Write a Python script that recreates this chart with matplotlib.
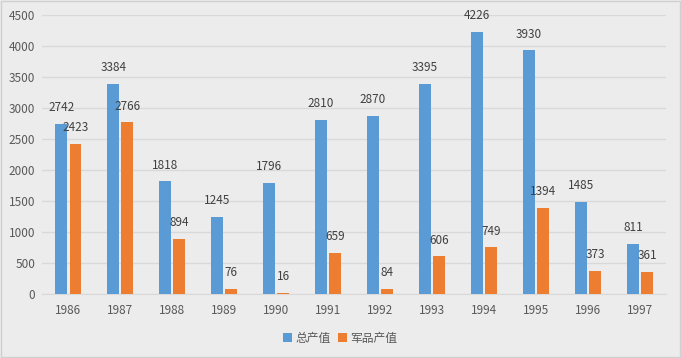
import matplotlib
matplotlib.use("Agg")
import matplotlib.pyplot as plt
import numpy as np
from matplotlib.patches import Rectangle

plt.rcParams['font.family'] = ['Noto Sans CJK SC', 'DejaVu Sans']

years = ['1986', '1987', '1988', '1989', '1990', '1991', '1992', '1993', '1994', '1995', '1996', '1997']
total = [2742, 3384, 1818, 1245, 1796, 2810, 2870, 3395, 4226, 3930, 1485, 811]
military = [2423, 2766, 894, 76, 16, 659, 84, 606, 749, 1394, 373, 361]
series_names = ['总产值', '军品产值']

blue = '#5b9bd5'
orange = '#ed7d31'
bg = '#ececec'

fig = plt.figure(figsize=(6.81, 3.58), dpi=100, facecolor=bg)
ax = fig.add_axes([0.062, 0.179, 0.916, 0.779])
ax.set_facecolor(bg)

x = np.arange(len(years))
w = 0.22
gap = 0.05
b1 = ax.bar(x - (w + gap) / 2, total, w, color=blue, label=series_names[0], zorder=3)
b2 = ax.bar(x + (w + gap) / 2, military, w, color=orange, label=series_names[1], zorder=3)

for rects, vals in ((b1, total), (b2, military)):
    for r, v in zip(rects, vals):
        ax.annotate(str(v), (r.get_x() + r.get_width() / 2, v), xytext=(0, 7),
                    textcoords='offset points', ha='center', va='bottom',
                    fontsize=8.5, color='#404040', zorder=4)

ax.set_xlim(-0.5, len(years) - 0.5)
ax.set_ylim(0, 4500)
ax.set_yticks(np.arange(0, 4501, 500))
ax.set_xticks(x)
ax.set_xticklabels(years)
ax.tick_params(axis='both', length=0, labelsize=8.5, colors='#595959')
ax.tick_params(axis='x', pad=7)
ax.tick_params(axis='y', pad=5)
ax.grid(axis='y', color='#d9d9d9', linewidth=1, zorder=0)
for s in ['top', 'right', 'left']:
    ax.spines[s].set_visible(False)
ax.spines['bottom'].set_color('#d9d9d9')
ax.spines['bottom'].set_zorder(2)

leg = fig.legend(handles=[b1, b2], labels=series_names, loc='center', bbox_to_anchor=(0.5, 0.055),
                 ncol=2, frameon=False, fontsize=8.5, handlelength=0.75, handleheight=0.75,
                 handletextpad=0.3, columnspacing=0.6, labelcolor='#595959')

fig.patches.append(Rectangle((0.001, 0.002), 0.997, 0.995, transform=fig.transFigure,
                             fill=False, edgecolor='#d0d0d0', linewidth=1))

fig.savefig('out.png', dpi=100, facecolor=bg)
